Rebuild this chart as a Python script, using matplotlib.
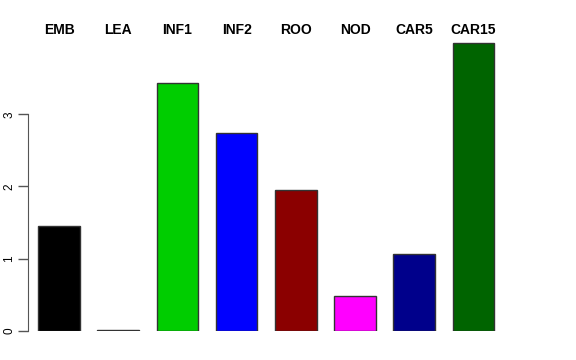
import matplotlib
matplotlib.use('Agg')
import matplotlib.pyplot as plt

# Values
groups = ['EMB', 'LEA', 'INF1', 'INF2', 'ROO', 'NOD', 'CAR5', 'CAR15']
values = [1.45, 0.01, 3.44, 2.74, 1.95, 0.48, 1.06, 3.99]
colors = ['#000000', '#000000', '#00CD00', '#0000FF', '#8B0000', '#FF00FF', '#00008B', '#006400']
yticks = [0, 1, 2, 3]

plt.rcParams['font.family'] = ['Liberation Sans', 'DejaVu Sans']

fig = plt.figure(figsize=(5.76, 3.6), dpi=100)
ax = fig.add_axes([28 / 576, 29.5 / 360, (503 - 28) / 576, (330.5 - 42.5) / 360])

x = list(range(len(groups)))
ax.bar(x, values, width=0.7, color=colors, edgecolor='#333333', linewidth=1)

for xi, name in zip(x, groups):
    ax.text(xi, 4.17, name, ha='center', va='center', fontsize=10,
            fontweight='bold', clip_on=False)

ax.set_xlim(-0.524, 7.5)
ax.set_ylim(0, 4)
ax.set_xticks([])
ax.set_yticks(yticks)
ax.set_yticklabels([str(t) for t in yticks], rotation=90, va='center', fontsize=8.5)
ax.tick_params(axis='y', length=7, width=1, color='#555555', pad=2)
for side in ['top', 'right', 'bottom']:
    ax.spines[side].set_visible(False)
ax.spines['left'].set_bounds(0, 3)
ax.spines['left'].set_color('#555555')
ax.patch.set_alpha(0)

fig.savefig('out.png', dpi=100)
